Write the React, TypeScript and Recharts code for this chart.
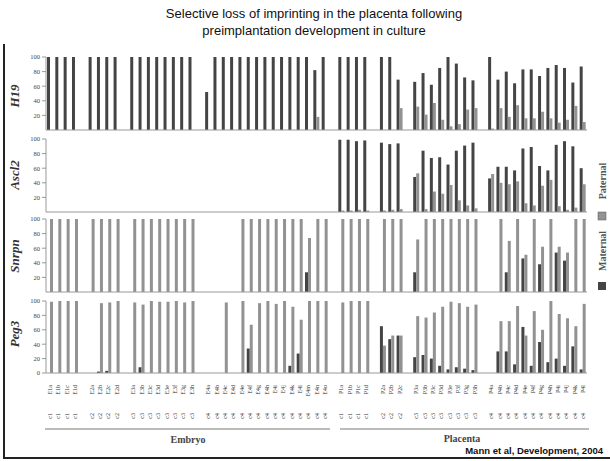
import { Bar, BarChart, XAxis, YAxis } from "recharts";

type Groups = (number | null)[][];

// slots are grouped: embryo groups 1-4, then placenta groups 1-4
const embryoIds = [
  "E1a E1b E1c E1d",
  "E2a E2b E2c E2d",
  "E3a E3b E3c E3d E3e E3f E3g E3h",
  "E4a E4b E4c E4d E4e E4f E4g E4h E4i E4j E4k E4l E4m E4n E4o",
].map((g) => g.split(" "));
const placentaIds = [
  "P1a P1b P1c P1d",
  "P2a P2b P2c",
  "P3a P3b P3c P3d P3e P3f P3g P3h",
  "P4a P4b P4c P4d P4e P4f P4g P4h P4i P4j P4k P4l",
].map((g) => g.split(" "));
const groupCodes = ["c1", "c2", "c3", "c4", "c1", "c2", "c3", "c4"];

const _ = null;

const h19Mat: Groups = [
  [100, 100, 100, 100],
  [100, 100, 100, 100],
  [100, 100, 100, 100, 100, 100, 100, 100],
  [52, 100, 100, 100, 100, 100, 100, 100, 100, 100, 100, 100, 100, 82, 100],
  [100, 100, 100, 100],
  [100, 100, 69],
  [66, 78, 62, 85, 100, 91, 72, 68],
  [100, 69, 80, 64, 83, 83, 74, 85, 89, 85, 65, 87],
];
const h19Pat: Groups = [
  [0, 0, 0, 0],
  [0, 0, 0, 0],
  [0, 0, 0, 0, 0, 0, 0, 0],
  [0, 0, 0, 0, 0, 0, 0, 0, 0, 0, 0, 0, 0, 18, 0],
  [0, 0, 0, 0],
  [0, 0, 30],
  [32, 21, 37, 14, 5, 8, 28, 30],
  [2, 30, 18, 34, 16, 16, 25, 16, 10, 14, 33, 11],
];

const ascl2Mat: Groups = [
  [_, _, _, _],
  [_, _, _, _],
  [_, _, _, _, _, _, _, _],
  [_, _, _, _, _, _, _, _, _, _, _, _, _, _, _],
  [99, 99, 97, 98],
  [95, 93, 94],
  [48, 84, 74, 75, 65, 84, 91, 95],
  [46, 62, 62, 57, 87, 89, 63, 57, 92, 97, 90, 60],
];
const ascl2Pat: Groups = [
  [_, _, _, _],
  [_, _, _, _],
  [_, _, _, _, _, _, _, _],
  [_, _, _, _, _, _, _, _, _, _, _, _, _, _, _],
  [2, 2, 3, 2],
  [2, 3, 4],
  [53, 4, 28, 25, 37, 16, 9, 5],
  [52, 40, 38, 42, 12, 9, 36, 44, 8, 3, 6, 38],
];

const snrpnMat: Groups = [
  [0, 0, 0, 0],
  [0, 0, 0, 0],
  [0, 0, 0, 0, 0, 0, 0, 0],
  [_, _, _, _, 0, 0, 0, 0, 0, 0, 0, 0, 27, 0, 0],
  [0, 0, 0, 0],
  [0, 0, 0],
  [27, 0, 0, 0, 0, 0, 0, 0],
  [_, 0, 27, 0, 46, 0, 38, 0, 54, 43, 0, 0],
];
const snrpnPat: Groups = [
  [100, 100, 100, 100],
  [100, 100, 100, 100],
  [100, 100, 100, 100, 100, 100, 100, 100],
  [_, _, _, _, 100, 100, 100, 100, 100, 100, 100, 100, 74, 100, 100],
  [100, 100, 100, 100],
  [100, 100, 100],
  [72, 100, 100, 100, 100, 100, 100, 100],
  [_, 100, 70, 100, 51, 100, 62, 100, 62, 54, 100, 100],
];

const peg3Mat: Groups = [
  [0, 0, 0, 0],
  [_, 2, 3, 0],
  [0, 8, 0, 0, 0, 0, 0, 0],
  [_, _, 0, _, 0, 34, 0, 0, 0, 0, 10, 27, 0, 0, 0],
  [0, 0, 0, 0],
  [65, 47, 52],
  [22, 25, 20, 10, 5, 8, 6, 4],
  [_, 30, 30, 12, 64, 10, 43, 15, 20, 10, 37, 5],
];
const peg3Pat: Groups = [
  [99, 100, 100, 100],
  [_, 97, 98, 100],
  [98, 95, 100, 99, 99, 100, 98, 100],
  [_, _, 98, _, 100, 67, 97, 100, 96, 100, 92, 74, 100, 100, 100],
  [98, 100, 100, 100],
  [38, 52, 52],
  [79, 77, 84, 92, 99, 97, 92, 95],
  [_, 72, 72, 93, 52, 86, 60, 100, 82, 76, 65, 96],
];

const MAT = "#444444";
const PAT = "#929292";
const SERIF = "'Liberation Serif', 'DejaVu Serif', serif";
const SANS = "'Liberation Sans', Arial, sans-serif";

function withGaps<T>(groups: T[][], gap: T): T[] {
  const out: T[] = [];
  groups.forEach((g, i) => {
    if (i > 0) out.push(gap);
    out.push(...g);
  });
  return out;
}

const allIds = withGaps([...embryoIds, ...placentaIds], "");
const allCodes = withGaps(
  [...embryoIds, ...placentaIds].map((g, i) => g.map(() => groupCodes[i])),
  ""
);

function rows(mat: Groups, pat: Groups) {
  const m = withGaps(mat, null);
  const p = withGaps(pat, null);
  return allIds.map((id, i) => ({ key: `s${i}`, id, code: allCodes[i], m: m[i], p: p[i] }));
}

function SampleTick(props: any) {
  const { x, y, index } = props;
  const id = allIds[index];
  if (!id) return null;
  return (
    <g transform={`translate(${x},${y})`} fontFamily={SERIF} fontSize={6} fill="#333">
      <text transform="rotate(-90)" x={-4} y={2} textAnchor="end">
        {id}
      </text>
      <text transform="rotate(-90)" x={-32} y={2} textAnchor="end">
        {allCodes[index]}
      </text>
    </g>
  );
}

function Panel({ top, bottom, mat, pat, ticks }: { top: number; bottom: number; mat: Groups; pat: Groups; ticks?: boolean }) {
  const xH = ticks ? 60 : 3;
  const h = 5 + (bottom - top) + xH;
  return (
    <div style={{ position: "absolute", left: 0, top: top - 5 }}>
      <BarChart
        width={610}
        height={h}
        data={rows(mat, pat)}
        margin={{ top: 5, right: 23, left: 0, bottom: 0 }}
        barGap={0}
        barSize={3}
      >
        <XAxis
          dataKey="key"
          interval={0}
          height={xH}
          axisLine={{ stroke: "#999" }}
          tickLine={false}
          tick={ticks ? <SampleTick /> : false}
        />
        <YAxis
          domain={[0, 100]}
          ticks={[0, 20, 40, 60, 80, 100]}
          width={46}
          tickSize={4}
          axisLine={{ stroke: "#999" }}
          tickLine={{ stroke: "#999" }}
          tick={{ fontSize: 6.5, fill: "#444", fontFamily: SERIF }}
        />
        <Bar dataKey="m" fill={MAT} isAnimationActive={false} />
        <Bar dataKey="p" fill={PAT} isAnimationActive={false} />
      </BarChart>
    </div>
  );
}

const geneLabels = [
  { name: "H19", y: 96 },
  { name: "Ascl2", y: 175 },
  { name: "Snrpn", y: 256 },
  { name: "Peg3", y: 334 },
];

export default function App() {
  return (
    <div style={{ position: "absolute", left: 0, top: 0, width: 610, height: 461, background: "#fff" }}>
      <Panel top={57} bottom={130} mat={h19Mat} pat={h19Pat} />
      <Panel top={139} bottom={212} mat={ascl2Mat} pat={ascl2Pat} />
      <Panel top={219} bottom={292} mat={snrpnMat} pat={snrpnPat} />
      <Panel top={301} bottom={373} mat={peg3Mat} pat={peg3Pat} ticks />
      <svg width={610} height={461} style={{ position: "absolute", left: 0, top: 0, pointerEvents: "none" }}>
        <text x={314} y={18} textAnchor="middle" fontFamily={SANS} fontSize={13} fill="#111">
          Selective loss of imprinting in the placenta following
        </text>
        <text x={314} y={35} textAnchor="middle" fontFamily={SANS} fontSize={13} fill="#111">
          preimplantation development in culture
        </text>
        <line x1={4} y1={44} x2={4} y2={458} stroke="#222" strokeWidth={2} />
        <line x1={3} y1={458} x2={610} y2={458} stroke="#222" strokeWidth={2} />
        {geneLabels.map((g) => (
          <text
            key={g.name}
            transform={`translate(19,${g.y}) rotate(-90)`}
            textAnchor="middle"
            fontFamily={SERIF}
            fontStyle="italic"
            fontWeight="bold"
            fontSize={13}
            fill="#333"
          >
            {g.name}
          </text>
        ))}
        <line x1={45} y1={429} x2={330} y2={429} stroke="#bbb" strokeWidth={2} />
        <line x1={340} y1={429} x2={589} y2={429} stroke="#bbb" strokeWidth={2} />
        <text x={188} y={443} textAnchor="middle" fontFamily={SERIF} fontWeight="bold" fontSize={10} fill="#444">
          Embryo
        </text>
        <text x={462} y={442} textAnchor="middle" fontFamily={SERIF} fontWeight="bold" fontSize={10} fill="#444">
          Placenta
        </text>
        <text x={603} y={454} textAnchor="end" fontFamily={SANS} fontWeight="bold" fontSize={9.5} fill="#111">
          Mann et al, Development, 2004
        </text>
        <g fontFamily={SERIF} fontWeight="bold" fontSize={10} fill="#555">
          <text transform="translate(606,181) rotate(-90)" textAnchor="middle">Paternal</text>
          <rect x={598} y={212} width={8} height={8} fill={PAT} stroke="#555" strokeWidth={0.5} />
          <text transform="translate(606,251) rotate(-90)" textAnchor="middle">Maternal</text>
          <rect x={598} y={282} width={8} height={8} fill={MAT} />
        </g>
      </svg>
    </div>
  );
}
